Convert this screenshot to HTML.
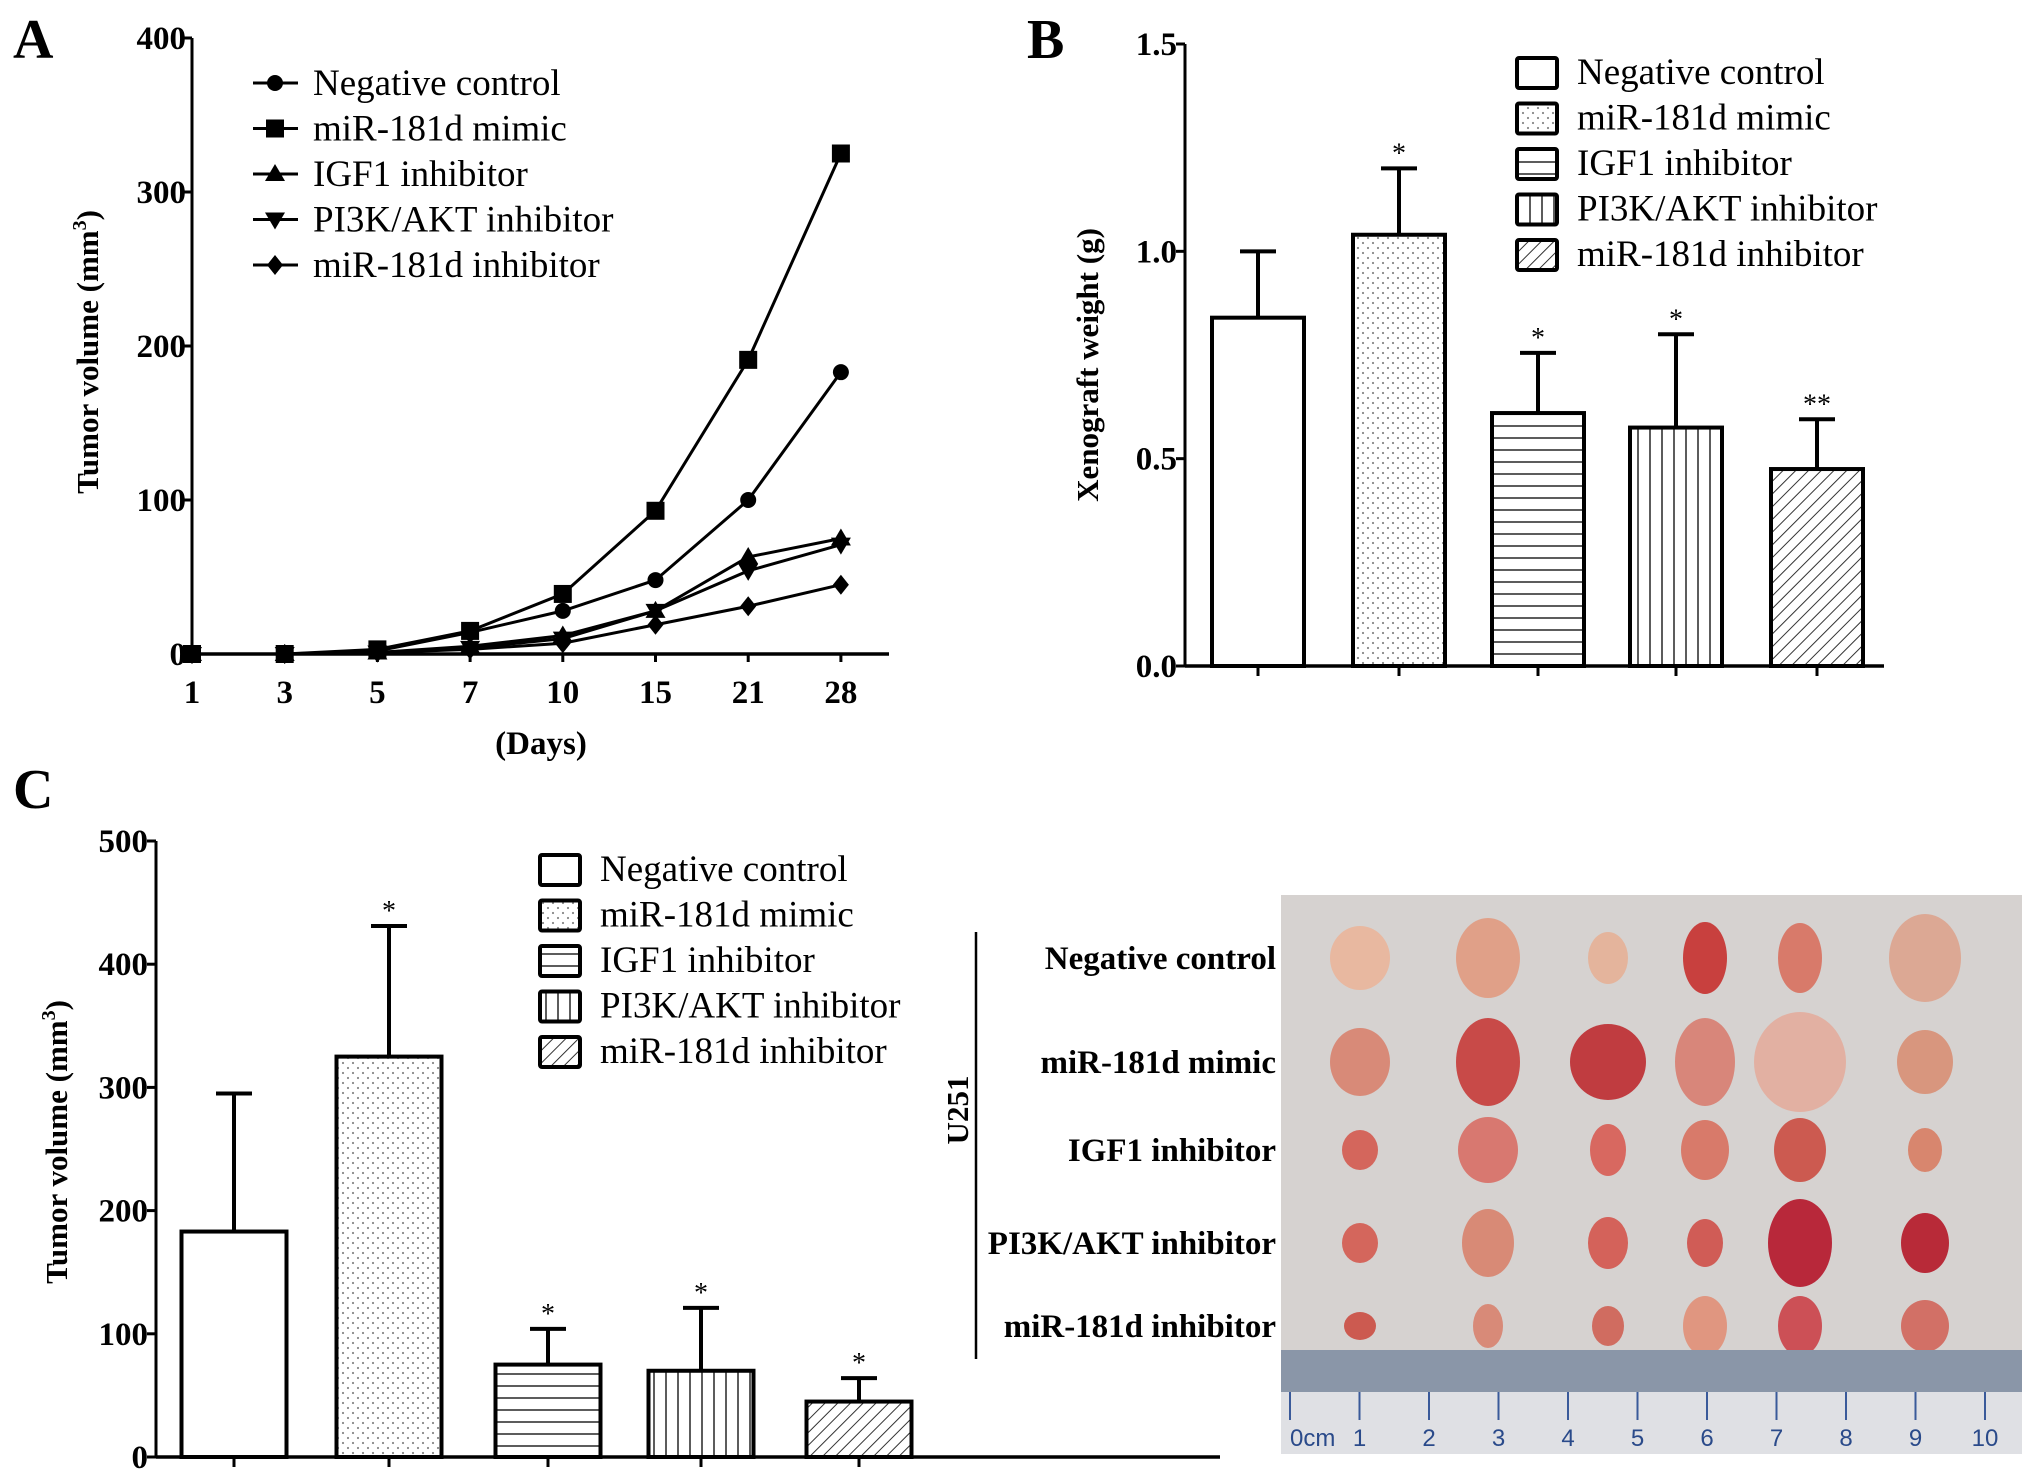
<!DOCTYPE html>
<html><head><meta charset="utf-8"><style>
html,body{margin:0;padding:0;background:#fff;}
svg{display:block;font-family:"Liberation Serif",serif;}
</style></head><body>
<svg id="fig" width="2031" height="1481" viewBox="0 0 2031 1481" xmlns="http://www.w3.org/2000/svg">
<defs>
<pattern id="pDots" width="10" height="10" patternUnits="userSpaceOnUse"><rect width="10" height="10" fill="#fff"/><circle cx="3" cy="3" r="1.1" fill="#888"/><circle cx="8" cy="8" r="1.1" fill="#888"/></pattern>
<pattern id="pH" width="10" height="12" patternUnits="userSpaceOnUse"><rect width="10" height="12" fill="#fff"/><line x1="0" y1="6" x2="10" y2="6" stroke="#333" stroke-width="1.6"/></pattern>
<pattern id="pV" width="12" height="10" patternUnits="userSpaceOnUse"><rect width="12" height="10" fill="#fff"/><line x1="6" y1="0" x2="6" y2="10" stroke="#333" stroke-width="1.6"/></pattern>
<pattern id="pD" width="9" height="9" patternUnits="userSpaceOnUse" patternTransform="rotate(45)"><rect width="9" height="9" fill="#fff"/><line x1="0" y1="0" x2="0" y2="9" stroke="#333" stroke-width="2"/></pattern>
</defs>
<g id="gA"></g>
<g id="gB"></g>
<g id="gC"></g>
<g id="gP"></g>
</svg>
<script>
// Panel A data
const daysA = ["1","3","5","7","10","15","21","28"];
const seriesNames = ["Negative control","miR-181d mimic","IGF1 inhibitor","PI3K/AKT inhibitor","miR-181d inhibitor"];
const ncA = [0,0,2,14,28,48,100,183];
const mimicA = [0,0,3,15,39,93,191,325];
const igfA = [0,0,1,5,12,28,63,75];
const pi3kA = [0,0,1,4,10,28,54,71];
const inhA = [0,0,1,3,7,19,31,45];
const ticksA = [0,100,200,300,400];
// Panel B data
const meanB = [0.84,1.04,0.61,0.575,0.475];
const errB = [0.16,0.16,0.145,0.225,0.12];
const starsB = ["","*","*","*","**"];
const ticksB = ["0.0","0.5","1.0","1.5"];
// Panel C data
const meanC = [183,325,75,70,45];
const errC = [112,106,29,51,19];
const starsC = ["","*","*","*","*"];
const ticksC = [0,100,200,300,400,500];

const NS="http://www.w3.org/2000/svg";
function mk(parent,tag,attrs,text){const e=document.createElementNS(NS,tag);for(const k in attrs)e.setAttribute(k,attrs[k]);if(text!==undefined)e.textContent=text;parent.appendChild(e);return e;}
const fills=["#fff","url(#pDots)","url(#pH)","url(#pV)","url(#pD)"];

function marker(g,type,x,y){
  let e;const s=9;
  if(type===0)e=mk(g,"circle",{cx:x,cy:y,r:8,fill:"#000"});
  else if(type===1)e=mk(g,"rect",{x:x-s,y:y-s,width:2*s,height:2*s,fill:"#000"});
  else if(type===2)e=mk(g,"polygon",{points:`${x},${y-10} ${x+10},${y+7} ${x-10},${y+7}`,fill:"#000"});
  else if(type===3)e=mk(g,"polygon",{points:`${x},${y+10} ${x+10},${y-7} ${x-10},${y-7}`,fill:"#000"});
  else e=mk(g,"polygon",{points:`${x},${y-10} ${x+8},${y} ${x},${y+10} ${x-8},${y}`,fill:"#000"});
  
  
  return e;
}

// ---------- Panel A ----------
(function(){
  const g=document.getElementById("gA");
  const x0=192,xStep=92.7,y0=654,yTop=38,yMax=400;
  const X=i=>x0+i*xStep, Y=v=>y0-(v/yMax)*(y0-yTop);
  let t=mk(g,"text",{x:13,y:58,"font-size":56,"font-weight":"bold"},"A");
  
  let ax=mk(g,"line",{x1:x0,y1:yTop,x2:x0,y2:y0,stroke:"#000","stroke-width":3});
  
  ax=mk(g,"line",{x1:x0,y1:y0,x2:889,y2:y0,stroke:"#000","stroke-width":3.5});
  
  ticksA.forEach(v=>{
    mk(g,"line",{x1:x0-8,y1:Y(v),x2:x0,y2:Y(v),stroke:"#000","stroke-width":3});
    const l=mk(g,"text",{x:x0-6,y:Y(v)+11,"font-size":33,"font-weight":"bold","text-anchor":"end"},v);
    
  });
  daysA.forEach((d,i)=>{
    mk(g,"line",{x1:X(i),y1:y0,x2:X(i),y2:y0+8,stroke:"#000","stroke-width":3});
    const l=mk(g,"text",{x:X(i),y:703,"font-size":33,"font-weight":"bold","text-anchor":"middle"},d);
    
  });
  t=mk(g,"text",{x:541,y:754,"font-size":33,"font-weight":"bold","text-anchor":"middle"},"(Days)");
  
  t=mk(g,"text",{transform:"translate(98,352) rotate(-90)","font-size":31,"font-weight":"bold","text-anchor":"middle"});
  
  t.innerHTML='Tumor volume (mm<tspan dy="-12" font-size="20">3</tspan><tspan dy="12">)</tspan>';
  const all=[ncA,mimicA,igfA,pi3kA,inhA];
  all.forEach((s,k)=>{
    const p=mk(g,"polyline",{points:s.map((v,i)=>X(i)+","+Y(v)).join(" "),fill:"none",stroke:"#000","stroke-width":3});
    
    s.forEach((v,i)=>marker(g,k,X(i),Y(v)));
  });
  seriesNames.forEach((n,k)=>{
    const y=83+k*45.5;
    const le=mk(g,"g",{});
    
    mk(le,"line",{x1:253,y1:y,x2:298,y2:y,stroke:"#000","stroke-width":3});
    marker(le,k,275,y);
    mk(le,"text",{x:313,y:y+12,"font-size":37},n);
  });
})();

function barChart(gid,opt){
  const g=document.getElementById(gid);
  const {x0,xEnd,y0,yTop,yMax,ticks,tickVals,centers,bw,means,errs,stars,legX,legY,legStep,label,lx,ly,tx,ty,title}=opt;
  const Y=v=>y0-(v/yMax)*(y0-yTop);
  let t=mk(g,"text",{x:lx,y:ly,"font-size":56,"font-weight":"bold"},label);
  
  let ax=mk(g,"line",{x1:x0,y1:yTop,x2:x0,y2:y0,stroke:"#000","stroke-width":3});
  
  ticks.forEach((lab,i)=>{
    const v=tickVals[i];
    mk(g,"line",{x1:x0-9,y1:Y(v),x2:x0,y2:Y(v),stroke:"#000","stroke-width":3});
    const l=mk(g,"text",{x:x0-8,y:Y(v)+11,"font-size":33,"font-weight":"bold","text-anchor":"end"},lab);
    
  });
  t=mk(g,"text",{transform:`translate(${tx},${ty}) rotate(-90)`,"font-size":31,"font-weight":"bold","text-anchor":"middle"});
  
  t.innerHTML=title;
  means.forEach((m,i)=>{
    const c=centers[i], top=Y(m), et=Y(m+errs[i]);
    const eb=mk(g,"line",{x1:c,y1:top,x2:c,y2:et,stroke:"#000","stroke-width":4});
    
    mk(g,"line",{x1:c-18,y1:et,x2:c+18,y2:et,stroke:"#000","stroke-width":4});
    const b=mk(g,"rect",{x:c-bw/2,y:top,width:bw,height:y0-top,fill:fills[i],stroke:"#000","stroke-width":4});
    
    if(stars[i]){const s=mk(g,"text",{x:c,y:et-6,"font-size":28,"text-anchor":"middle"},stars[i]);
      }
    mk(g,"line",{x1:c,y1:y0,x2:c,y2:y0+10,stroke:"#000","stroke-width":3});
  });
  ax=mk(g,"line",{x1:x0,y1:y0,x2:xEnd,y2:y0,stroke:"#000","stroke-width":3.5});
  
  seriesNames.forEach((n,k)=>{
    const y=legY+k*legStep;
    const le=mk(g,"g",{});
    
    mk(le,"rect",{x:legX,y:y-14,width:40,height:30,fill:fills[k],stroke:"#000","stroke-width":4,rx:2});
    mk(le,"text",{x:legX+60,y:y+12,"font-size":37},n);
  });
}

barChart("gB",{x0:1185,xEnd:1884,y0:666,yTop:44,yMax:1.5,ticks:ticksB,tickVals:ticksB.map(Number),
  centers:[1258,1399,1538,1676,1817],bw:92,means:meanB,errs:errB,stars:starsB,
  legX:1517,legY:72,legStep:45.5,label:"B",lx:1027,ly:58,tx:1098,ty:365,
  title:'Xenograft weight (g)'});

barChart("gC",{x0:156,xEnd:1220,y0:1457,yTop:841,yMax:500,ticks:ticksC.map(String),tickVals:ticksC,
  centers:[234,389,548,701,859],bw:105,means:meanC,errs:errC,stars:starsC,
  legX:540,legY:869,legStep:45.5,label:"C",lx:13,ly:808,tx:67,ty:1142,
  title:'Tumor volume (mm<tspan dy="-12" font-size="20">3</tspan><tspan dy="12">)</tspan>'});

// ---------- Photo panel ----------
(function(){
  const g=document.getElementById("gP");
  let l=mk(g,"line",{x1:976,y1:932,x2:976,y2:1359,stroke:"#000","stroke-width":2.5});
  
  let t=mk(g,"text",{transform:"translate(968,1110) rotate(-90)","font-size":31,"font-weight":"bold","text-anchor":"middle"},"U251");
  
  const ph=mk(g,"rect",{x:1281,y:895,width:741,height:559,fill:"#d6d2d0"});
  
  const rowsY=[958,1062,1150,1243,1326];
  const colsX=[1360,1488,1608,1705,1800,1925];
  const rx=[[30,32,20,22,22,36],[30,32,38,30,46,28],[18,30,18,24,26,17],[18,26,20,18,32,24],[16,15,16,22,22,24]];
  const ry=[[32,40,26,36,35,44],[34,44,38,44,50,32],[20,33,26,30,32,22],[20,34,26,24,44,30],[14,22,20,30,30,26]];
  const col=[["#e8b8a0","#e0a088","#e4b49c","#c8403e","#d87a6a","#dca894"],["#d88a78","#c84a48","#c03c40","#d8867a","#e2b0a2","#d8967e"],["#d4665c","#d87870","#d86860","#d87a6a","#cc5a50","#d8866e"],["#d4665c","#d88a76","#d4625a","#d05c56","#b8283a","#b82a38"],["#cc5a50","#d88a78","#d06c60","#e09680","#cc5056","#d27066"]];
  rowsY.forEach((y,r)=>colsX.forEach((x,c)=>{
    const e=mk(g,"ellipse",{cx:x,cy:y,rx:rx[r][c],ry:ry[r][c],fill:col[r][c]});
    
  }));
  const labs=["Negative control","miR-181d mimic","IGF1 inhibitor","PI3K/AKT inhibitor","miR-181d inhibitor"];
  labs.forEach((s,i)=>{const tt=mk(g,"text",{x:1276,y:rowsY[i]+11,"font-size":33,"font-weight":"bold","text-anchor":"end"},s);
    });
  const ru=mk(g,"rect",{x:1281,y:1350,width:741,height:42,fill:"#8a96a8"});
  
  mk(g,"rect",{x:1281,y:1392,width:741,height:62,fill:"#dfe0e4"});
  for(let i=0;i<=10;i++){
    const x=1290+i*69.5;
    mk(g,"line",{x1:x,y1:1392,x2:x,y2:1420,stroke:"#3a5a9a","stroke-width":2});
    mk(g,"text",{x:x,y:1446,"font-size":24,fill:"#2a4a8a","text-anchor":i===0?"start":"middle","font-family":"Liberation Sans"},i===0?"0cm":String(i));
  }
})();
</script>
</body></html>
